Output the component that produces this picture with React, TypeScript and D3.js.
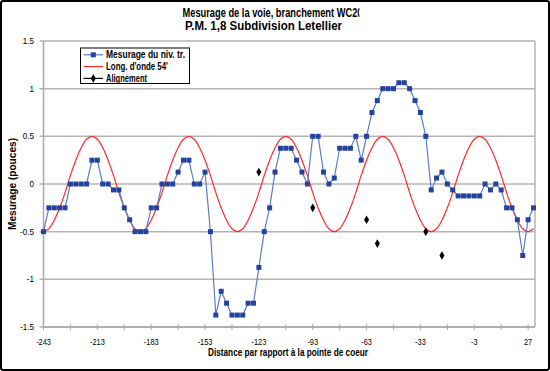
import { useRef, useEffect } from 'react';
import * as d3 from 'd3';

// stations every 3 ft, from -243 to 30
const stations = d3.range(-243, 31, 3);

// Mesurage du niv. tr. (pouces), one value per station
const mesurage = [
  -0.5, -0.25, -0.25, -0.25, -0.25, 0, 0, 0, 0, 0.25,
  0.25, 0, 0, -0.0625, -0.0625, -0.25, -0.375, -0.5, -0.5, -0.5,
  -0.25, -0.25, 0, 0, 0, 0.125, 0.25, 0.25, 0, 0,
  0.125, -0.5, -1.375, -1.125, -1.25, -1.375, -1.375, -1.375, -1.25, -1.25,
  -0.875, -0.5, -0.25, 0.125, 0.375, 0.375, 0.375, 0.25, 0.125, 0,
  0.5, 0.5, 0.125, 0, 0.0625, 0.375, 0.375, 0.375, 0.5, 0.25,
  0.5, 0.75, 0.875, 1, 1, 1, 1.0625, 1.0625, 1, 0.875,
  0.75, 0.5, -0.0625, 0.0625, 0.125, 0, -0.0625, -0.125, -0.125, -0.125,
  -0.125, -0.125, 0, -0.0625, 0, -0.0625, -0.25, -0.25, -0.375, -0.75,
  -0.375, -0.25
];

// Long. d'onde 54' reference curve, same stations
const onde = [
  -0.5, -0.47, -0.38, -0.25, -0.09, 0.09, 0.25, 0.38, 0.47, 0.5, 0.47, 0.38, 0.25, 0.09, -0.09, -0.25, -0.38, -0.47,
  -0.5, -0.47, -0.38, -0.25, -0.09, 0.09, 0.25, 0.38, 0.47, 0.5, 0.47, 0.38, 0.25, 0.09, -0.09, -0.25, -0.38, -0.47,
  -0.5, -0.47, -0.38, -0.25, -0.09, 0.09, 0.25, 0.38, 0.47, 0.5, 0.47, 0.38, 0.25, 0.09, -0.09, -0.25, -0.38, -0.47,
  -0.5, -0.47, -0.38, -0.25, -0.09, 0.09, 0.25, 0.38, 0.47, 0.5, 0.47, 0.38, 0.25, 0.09, -0.09, -0.25, -0.38, -0.47,
  -0.5, -0.47, -0.38, -0.25, -0.09, 0.09, 0.25, 0.38, 0.47, 0.5, 0.47, 0.38, 0.25, 0.09, -0.09, -0.25, -0.38, -0.47,
  -0.5, -0.47
];

// Alignement points
const alignX = [-123, -93, -63, -57, -30, -21];
const alignY = [0.125, -0.25, -0.375, -0.625, -0.5, -0.75];

const xTickLabels = [-243, -213, -183, -153, -123, -93, -63, -33, -3, 27];
const xMinorTicks = [-228, -198, -168, -138, -108, -78, -48, -18, 12];
const yTicks = [-1.5, -1, -0.5, 0, 0.5, 1, 1.5];

const FONT = '"Liberation Sans", Arial, sans-serif';

export default function App() {
  const svgRef = useRef(null);

  useEffect(() => {
    const width = 550, height = 371;
    const plot = { left: 43.5, right: 535, top: 41, bottom: 327 };

    const svg = d3.select(svgRef.current)
      .attr('width', width)
      .attr('height', height);
    svg.selectAll('*').remove();

    const x = d3.scaleLinear().domain([-243, 30]).range([43.5, 533.5]);
    const y = d3.scaleLinear().domain([-1.5, 1.5]).range([plot.bottom, plot.top]);

    const label = (g, txt, px, py, o) => {
      const t = g.append('text')
        .attr('x', px).attr('y', py)
        .attr('font-family', FONT)
        .attr('font-size', o.size)
        .attr('font-weight', o.bold ? 'bold' : 'normal')
        .attr('text-anchor', o.anchor || 'start')
        .attr('fill', '#000')
        .text(txt);
      if (o.len) t.attr('textLength', o.len).attr('lengthAdjust', 'spacingAndGlyphs');
      return t;
    };

    svg.append('rect').attr('width', width).attr('height', height).attr('fill', '#fff');

    // gridlines
    svg.append('g').selectAll('line').data(yTicks).enter().append('line')
      .attr('x1', plot.left - 4).attr('x2', plot.right)
      .attr('y1', d => y(d)).attr('y2', d => y(d))
      .attr('stroke', '#b4b4b4').attr('stroke-width', 1.5);

    // plot frame
    svg.append('line').attr('x1', plot.left).attr('x2', plot.left)
      .attr('y1', plot.top).attr('y2', plot.bottom + 1)
      .attr('stroke', '#a8a8a8').attr('stroke-width', 1.5);
    svg.append('line').attr('x1', plot.right).attr('x2', plot.right)
      .attr('y1', plot.top).attr('y2', plot.bottom)
      .attr('stroke', '#b4b4b4').attr('stroke-width', 1.5);
    svg.append('line').attr('x1', plot.left).attr('x2', plot.right)
      .attr('y1', plot.bottom).attr('y2', plot.bottom)
      .attr('stroke', '#a8a8a8').attr('stroke-width', 1.5);

    // x ticks (cross)
    svg.append('g').selectAll('line').data([...xTickLabels, ...xMinorTicks]).enter().append('line')
      .attr('x1', d => x(d)).attr('x2', d => x(d))
      .attr('y1', plot.bottom - 3).attr('y2', plot.bottom + 3)
      .attr('stroke', '#a8a8a8').attr('stroke-width', 1);

    // tick labels
    const xl = svg.append('g');
    xTickLabels.forEach(v => {
      label(xl, String(v), 0, 0, { size: 9, anchor: 'middle' })
        .attr('transform', `translate(${x(v)},${345}) scale(0.82,1)`);
    });
    const yl = svg.append('g');
    yTicks.forEach(v => {
      label(yl, String(v), 0, 0, { size: 9, anchor: 'end' })
        .attr('transform', `translate(34,${y(v) + 3}) scale(0.9,1)`);
    });

    // red wave
    const smooth = d3.line().curve(d3.curveCatmullRom.alpha(0.5))
      .x((d, i) => x(stations[i])).y(d => y(d));
    svg.append('path').attr('d', smooth(onde))
      .attr('fill', 'none').attr('stroke', '#ff2a2a').attr('stroke-width', 1.2);

    // blue measurement
    const line = d3.line().x((d, i) => x(stations[i])).y(d => y(d));
    svg.append('path').attr('d', line(mesurage))
      .attr('fill', 'none').attr('stroke', '#5d7cc9').attr('stroke-width', 1.2);
    svg.append('g').selectAll('rect').data(mesurage).enter().append('rect')
      .attr('x', (d, i) => x(stations[i]) - 2.5)
      .attr('y', d => y(d) - 2.5)
      .attr('width', 5).attr('height', 5)
      .attr('fill', '#23439f');

    // alignement diamonds
    const diamond = d3.symbol().type(d3.symbolDiamond).size(22);
    svg.append('g').selectAll('path').data(alignX).enter().append('path')
      .attr('d', diamond)
      .attr('transform', (d, i) => `translate(${x(d)},${y(alignY[i])})`)
      .attr('fill', '#000');

    // legend
    const lg = svg.append('g');
    lg.append('rect').attr('x', 80.5).attr('y', 48).attr('width', 109).attr('height', 35.5)
      .attr('fill', '#fff').attr('stroke', '#000').attr('stroke-width', 1);
    const rows = [
      { name: 'Mesurage du niv. tr.', color: '#5d7cc9', mark: 'square', len: 79 },
      { name: "Long. d'onde 54'", color: '#ff2a2a', mark: null, len: 62 },
      { name: 'Alignement', color: '#000', mark: 'diamond', len: 41 }
    ];
    rows.forEach((r, i) => {
      const ry = 54.8 + i * 11.8;
      lg.append('line').attr('x1', 83.5).attr('x2', 103).attr('y1', ry).attr('y2', ry)
        .attr('stroke', r.color).attr('stroke-width', 1.2);
      if (r.mark === 'square') {
        lg.append('rect').attr('x', 90.8).attr('y', ry - 2.5).attr('width', 5).attr('height', 5)
          .attr('fill', '#23439f');
      } else if (r.mark === 'diamond') {
        lg.append('path').attr('d', diamond).attr('transform', `translate(93.3,${ry})`).attr('fill', '#000');
      }
      label(lg, r.name, 106, ry + 3.6, { size: 10, bold: true, len: r.len });
    });

    // titles
    const clip = svg.append('clipPath').attr('id', 'titleclip');
    clip.append('rect').attr('x', 0).attr('y', 0).attr('width', 359.5).attr('height', 40);
    const tg = svg.append('g').attr('clip-path', 'url(#titleclip)');
    label(tg, 'Mesurage de la voie, branchement WC20', 182.5, 16.6, { size: 12.5, bold: true, len: 180 });
    label(svg, 'P.M. 1,8 Subdivision Letellier', 185, 30.2, { size: 12.5, bold: true, len: 157 });

    label(svg, 'Distance par rapport à la pointe de coeur', 288, 356, { size: 10.5, bold: true, anchor: 'middle', len: 160 });
    label(svg, 'Mesurage (pouces)', 0, 0, { size: 10.5, bold: true, anchor: 'middle', len: 92 })
      .attr('transform', 'translate(15.5,184) rotate(-90)');

    // outer frame
    svg.append('rect').attr('x', 1).attr('y', 1).attr('width', 548).attr('height', 369)
      .attr('rx', 2).attr('fill', 'none').attr('stroke', '#000').attr('stroke-width', 2);
  }, []);

  return (
    <svg ref={svgRef} style={{ position: 'absolute', left: 0, top: 0, display: 'block' }} />
  );
}
